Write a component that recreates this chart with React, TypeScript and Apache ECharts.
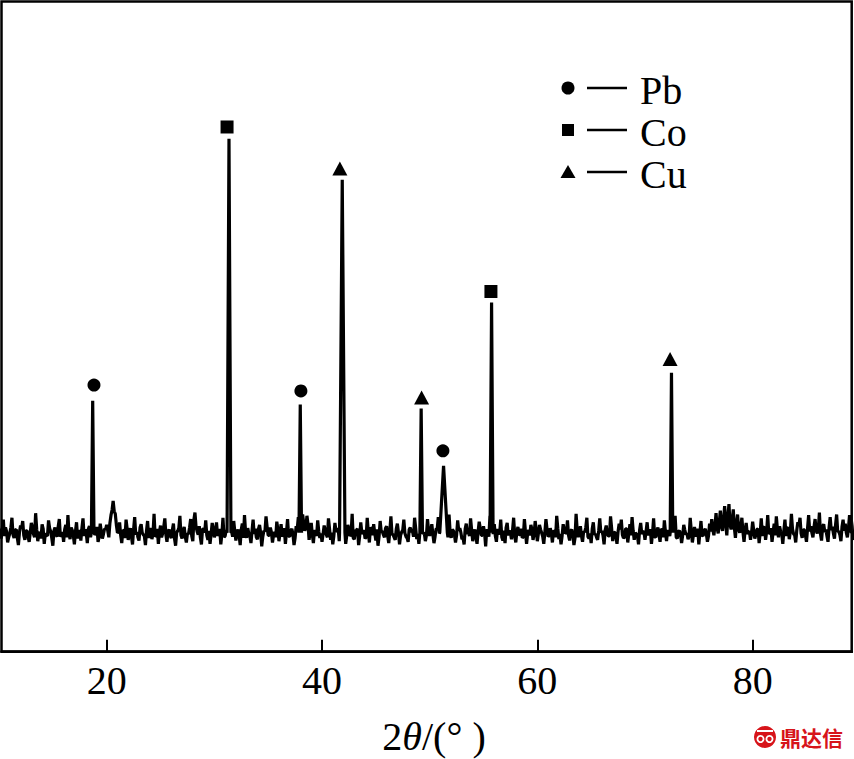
import React, { useEffect, useRef } from "react";
import * as echarts from "echarts";

// ---- data ----
const xTickValues = [20, 40, 60, 80];
const xMin = 10.23;
const xMax = 89.2;
const step = 0.2;
const baseLevel = 18.3;

// background noise: the "a" arrays start at 10.0, 20.0 ... and the "b" arrays at 10.1, 20.1 ...,
// one point every 0.2 deg in each array, each array covers 10 deg
const noise10a = [18.9, 17.4, 20.3, 19.1, 16.8, 18.2, 20.6, 17.5, 18.8, 16.4, 19.4, 20.1, 17.2, 18.6, 16.9, 19.8, 18.1, 21.3, 17.0, 18.4, 19.6, 16.6, 17.9, 20.2, 18.5, 16.3, 19.1, 17.7, 20.4, 18.0, 16.9, 19.5, 21.0, 17.3, 18.7, 16.5, 19.9, 18.3, 17.1, 20.5, 18.8, 16.7, 19.3, 17.6, 21.1, 18.2, 16.9, 19.7, 17.4, 18.9];
const noise20a = [19.5, 17.6, 21.0, 23.2, 21.2, 18.3, 19.9, 16.7, 18.6, 20.3, 17.2, 19.0, 16.5, 20.7, 18.4, 17.1, 19.6, 18.0, 16.4, 20.1, 18.7, 17.3, 21.2, 17.9, 16.6, 19.4, 18.2, 20.5, 16.9, 18.8, 17.5, 19.7, 16.3, 18.6, 20.9, 17.4, 19.2, 16.8, 18.1, 20.4, 17.0, 21.4, 18.5, 19.3, 16.5, 18.9, 20.2, 17.2, 16.6, 19.8];
const noise30a = [17.6, 19.9, 18.3, 16.5, 20.6, 17.8, 19.2, 16.9, 18.5, 20.1, 17.1, 18.8, 16.4, 19.7, 21.0, 17.5, 18.2, 16.7, 20.3, 18.9, 17.3, 19.5, 16.2, 18.6, 20.8, 17.9, 19.1, 16.8, 18.4, 20.0, 17.0, 19.6, 18.1, 16.6, 20.4, 17.7, 18.9, 16.4, 19.3, 20.7, 17.4, 21.1, 18.6, 20.9, 17.2, 19.8, 16.7, 18.3, 20.2, 17.5];
const noise40a = [16.9, 19.4, 18.0, 20.5, 17.2, 16.5, 19.8, 18.6, 17.0, 20.2, 18.3, 16.6, 19.5, 17.8, 21.2, 17.3, 18.7, 16.4, 19.9, 18.2, 17.4, 20.6, 16.8, 18.9, 19.6, 17.1, 16.3, 20.1, 18.5, 17.6, 19.3, 16.7, 20.8, 18.0, 17.2, 19.7, 16.5, 18.4, 20.3, 17.7, 16.9, 19.1, 18.6, 20.6, 17.3, 16.6, 19.9, 18.2, 17.0, 20.4];
const noise50a = [17.8, 19.6, 16.7, 18.9, 20.7, 17.2, 18.3, 16.4, 19.9, 21.1, 17.5, 18.6, 16.8, 20.2, 19.0, 17.3, 16.5, 19.7, 18.4, 20.5, 17.0, 18.8, 16.6, 20.0, 17.9, 19.3, 16.2, 18.5, 20.9, 17.4, 19.6, 16.9, 18.2, 20.3, 17.1, 16.7, 19.8, 18.6, 17.3, 20.6, 16.8, 19.2, 18.0, 17.5, 20.4, 16.6, 18.7, 19.5, 17.2, 20.1];
const noise60a = [17.0, 19.5, 18.3, 16.6, 20.4, 17.7, 19.0, 16.8, 18.5, 20.9, 17.3, 16.5, 19.6, 18.2, 20.2, 17.1, 18.8, 16.4, 21.2, 17.6, 19.3, 16.9, 18.4, 20.6, 17.4, 16.7, 19.9, 18.1, 17.2, 20.5, 18.6, 16.5, 19.4, 17.8, 20.8, 17.0, 18.3, 16.6, 19.7, 20.3, 17.5, 18.9, 16.8, 19.6, 20.7, 17.2, 18.1, 16.5, 19.8, 18.4];
const noise70a = [17.2, 19.9, 18.4, 16.6, 20.5, 17.6, 19.1, 16.9, 18.7, 20.2, 17.0, 18.3, 16.4, 19.8, 20.9, 17.4, 18.6, 16.7, 19.5, 18.0, 17.3, 20.6, 16.8, 19.2, 18.5, 16.5, 20.1, 17.8, 18.9, 16.9, 19.7, 20.4, 17.9, 21.3, 18.2, 21.7, 18.6, 22.4, 17.9, 22.7, 18.8, 21.9, 17.5, 21.1, 18.3, 20.6, 16.9, 19.8, 18.4, 17.2];
const noise80a = [20.0, 17.4, 18.8, 16.7, 20.5, 19.1, 17.2, 21.0, 18.3, 16.9, 19.7, 20.8, 17.6, 18.5, 16.6, 20.3, 19.0, 17.3, 21.2, 18.1, 16.8, 19.9, 20.6, 17.5, 18.7, 16.9, 21.0, 19.3, 17.6, 20.4, 18.2, 21.4, 17.1, 19.6, 18.8, 16.9, 20.7, 19.2, 17.4, 21.1, 18.5, 17.0, 20.3, 19.7, 17.6, 21.0, 18.4, 17.2, 20.6, 19.4];
const noise10b = [18.2, 18.9, 17.8, 18.5, 17.6, 19.1, 18.0, 18.7, 17.5, 18.4, 19.0, 17.9, 18.6, 17.7, 18.3, 19.2, 17.6, 18.8, 18.1, 17.4, 18.9, 18.2, 17.8, 19.0, 17.5, 18.6, 18.0, 19.3, 17.7, 18.4, 18.8, 17.6, 18.2, 19.1, 17.9, 18.5, 17.4, 18.7, 19.0, 17.8, 18.3, 18.9, 17.6, 18.6, 18.0, 19.2, 17.7, 18.4, 18.1, 18.8];
const noise20b = [18.6, 19.8, 21.8, 21.6, 19.5, 18.4, 17.9, 18.7, 17.5, 18.9, 18.2, 17.7, 18.8, 18.0, 17.6, 19.1, 18.3, 17.8, 18.6, 17.5, 19.0, 18.1, 17.7, 18.9, 18.4, 17.6, 19.2, 18.0, 18.5, 17.8, 18.7, 17.4, 18.3, 19.0, 17.9, 18.6, 17.7, 18.2, 19.1, 17.8, 20.3, 19.2, 18.0, 17.6, 18.8, 18.3, 17.9, 18.6, 18.1, 18.9];
const noise30b = [18.3, 17.8, 18.9, 18.1, 17.6, 18.7, 18.0, 19.1, 17.7, 18.5, 18.2, 17.9, 18.8, 17.5, 18.4, 19.0, 17.8, 18.6, 18.1, 17.6, 18.9, 18.3, 17.7, 18.5, 19.2, 17.9, 18.4, 18.0, 17.6, 18.8, 18.2, 17.7, 19.0, 18.4, 17.8, 18.6, 18.1, 17.5, 18.9, 18.3, 19.4, 19.8, 19.1, 19.6, 18.4, 18.0, 18.7, 17.8, 18.5, 18.2];
const noise40b = [18.1, 18.7, 17.6, 18.9, 18.3, 17.8, 18.5, 19.0, 17.7, 18.4, 18.2, 17.9, 18.8, 18.0, 17.5, 18.6, 18.9, 17.8, 18.3, 18.7, 17.6, 18.4, 19.1, 17.9, 18.2, 18.8, 17.7, 18.5, 18.0, 19.0, 17.8, 18.6, 18.1, 17.6, 18.9, 18.3, 17.9, 18.7, 18.2, 17.5, 18.8, 18.4, 17.7, 19.0, 18.1, 17.8, 18.6, 18.3, 17.9, 18.5];
const noise50b = [18.6, 18.0, 17.7, 18.9, 18.2, 17.8, 18.5, 19.1, 17.6, 18.4, 18.8, 18.0, 17.9, 18.6, 18.3, 17.5, 18.9, 18.1, 17.8, 18.7, 18.2, 17.6, 18.5, 19.0, 17.9, 18.3, 18.8, 17.7, 18.4, 18.1, 17.8, 18.9, 18.2, 17.6, 18.6, 19.1, 17.9, 18.3, 18.7, 17.8, 18.5, 18.0, 18.9, 17.7, 18.4, 18.2, 17.9, 18.8, 18.1, 18.6];
const noise60b = [18.2, 18.8, 17.7, 18.4, 18.9, 17.9, 18.3, 18.6, 17.6, 19.0, 18.1, 17.8, 18.7, 18.3, 17.9, 18.6, 18.0, 17.5, 18.8, 18.4, 17.8, 18.5, 19.1, 17.7, 18.2, 18.9, 18.0, 17.6, 18.6, 18.3, 17.9, 18.7, 18.1, 17.8, 19.0, 18.4, 17.7, 18.5, 18.8, 18.0, 17.6, 18.9, 18.2, 17.9, 18.6, 18.3, 17.8, 18.7, 18.1, 18.5];
const noise70b = [18.5, 17.9, 18.8, 18.2, 17.7, 18.6, 18.0, 18.9, 17.6, 18.4, 18.7, 17.8, 18.3, 18.9, 17.6, 18.5, 18.1, 17.9, 18.7, 18.2, 17.8, 18.6, 18.0, 17.7, 18.9, 18.3, 17.9, 18.6, 18.1, 17.8, 18.5, 18.8, 19.4, 19.0, 19.9, 19.3, 20.4, 19.6, 20.8, 19.5, 20.2, 19.1, 19.7, 18.8, 19.2, 18.4, 18.7, 18.1, 18.5, 18.3];
const noise80b = [18.6, 18.0, 18.9, 18.3, 17.8, 19.2, 18.5, 18.1, 19.0, 18.4, 17.9, 18.8, 19.3, 18.2, 18.6, 17.8, 19.1, 18.4, 18.9, 18.0, 18.7, 19.4, 18.2, 18.8, 17.9, 19.0, 18.5, 18.3, 19.2, 18.6, 18.9, 18.1, 19.3, 18.4, 17.8, 19.1, 18.7, 18.2, 19.5, 18.5, 18.0, 19.2, 18.6, 18.3, 19.0, 18.5, 18.1, 19.3, 18.7, 18.4];
const noiseStarts = [10, 20, 30, 40, 50, 60, 70, 80, 10.1, 20.1, 30.1, 40.1, 50.1, 60.1, 70.1, 80.1];
const noiseBlocks = [
  noise10a, noise20a, noise30a, noise40a, noise50a, noise60a, noise70a, noise80a,
  noise10b, noise20b, noise30b, noise40b, noise50b, noise60b, noise70b, noise80b,
];

// diffraction peaks
const peakPos = [18.7, 31.36, 37.98, 41.88, 49.21, 51.29, 55.75, 72.46];
const peakTop = [38.6, 78.9, 38.0, 72.6, 37.4, 28.6, 53.7, 42.9];
const peakHalfWidth = [0.12, 0.18, 0.12, 0.25, 0.12, 0.35, 0.14, 0.12];

// phase markers
const pbMarks = [[18.82, 41.0], [38.04, 40.1], [51.23, 30.9]];
const coMarks = [[31.18, 80.7], [55.69, 55.4]];
const cuMarks = [[41.66, 74.3], [49.25, 39.1], [72.33, 45.0]];

const legendLabels = ["Pb", "Co", "Cu"];

function buildPattern(): number[][] {
  const pts: number[][] = [];
  noiseBlocks.forEach((block, b) => {
    block.forEach((v, i) => {
      const x = +(noiseStarts[b] + i * step).toFixed(2);
      const nearPeak = peakPos.some((p, k) => Math.abs(x - p) <= peakHalfWidth[k]);
      if (!nearPeak) pts.push([x, v]);
    });
  });
  peakPos.forEach((p, k) => {
    pts.push([p - peakHalfWidth[k], baseLevel]);
    pts.push([p, peakTop[k]]);
    pts.push([p + peakHalfWidth[k], baseLevel]);
  });
  pts.sort((a, b) => a[0] - b[0]);
  return pts;
}

const SERIF = "'Liberation Serif', 'Times New Roman', serif";

export default function App() {
  const ref = useRef<HTMLDivElement>(null);
  useEffect(() => {
    if (!ref.current) return;
    const chart = echarts.init(ref.current, undefined, { renderer: "svg" });
    const legendSymbols: any[] = [];
    const rowY = [88, 130, 172];
    const symX = 568;
    legendSymbols.push({ type: "circle", shape: { cx: symX, cy: rowY[0], r: 6.5 }, style: { fill: "#000" } });
    legendSymbols.push({ type: "rect", shape: { x: symX - 6, y: rowY[1] - 6, width: 12, height: 12 }, style: { fill: "#000" } });
    legendSymbols.push({
      type: "polygon",
      shape: { points: [[symX, rowY[2] - 7], [symX + 7.5, rowY[2] + 6], [symX - 7.5, rowY[2] + 6]] },
      style: { fill: "#000" },
    });
    legendLabels.forEach((lab, i) => {
      legendSymbols.push({ type: "line", shape: { x1: 587, y1: rowY[i], x2: 627, y2: rowY[i] }, style: { stroke: "#000", lineWidth: 2.5 } });
      legendSymbols.push({
        type: "text",
        x: 640,
        y: rowY[i] + 2,
        style: { text: lab, fontSize: 40, fontFamily: SERIF, fill: "#000", align: "left", verticalAlign: "middle" },
      });
    });

    const markStyle = { color: "#000", opacity: 1 };

    chart.setOption({
      animation: false,
      backgroundColor: "#fff",
      grid: {
        left: 1.5,
        top: 1.5,
        right: 2.3,
        bottom: 107.3,
        show: true,
        borderColor: "#000",
        borderWidth: 2.5,
        containLabel: false,
        outerBoundsMode: "none",
      },
      xAxis: {
        type: "value",
        min: xMin,
        max: xMax,
        axisLine: { show: true, lineStyle: { color: "#000", width: 2.5 } },
        axisTick: { show: true, inside: true, length: 12, lineStyle: { color: "#000", width: 2 }, customValues: xTickValues },
        axisLabel: { customValues: xTickValues, fontSize: 40, fontFamily: SERIF, color: "#000", margin: 9 },
        splitLine: { show: false },
      },
      yAxis: {
        type: "value",
        min: 0,
        max: 100,
        show: false,
        splitLine: { show: false },
      },
      series: [
        {
          type: "line",
          name: "pattern",
          data: buildPattern(),
          symbol: "none",
          clip: true,
          lineStyle: { color: "#000", width: 3.2, join: "bevel" },
        },
        { type: "scatter", name: "Pb", data: pbMarks, symbol: "circle", symbolSize: 13, itemStyle: markStyle },
        { type: "scatter", name: "Co", data: coMarks, symbol: "rect", symbolSize: 13, itemStyle: markStyle },
        { type: "scatter", name: "Cu", data: cuMarks, symbol: "triangle", symbolSize: [15, 14], itemStyle: markStyle },
      ],
      graphic: [
        ...legendSymbols,
        {
          type: "text",
          x: 434,
          y: 736,
          style: {
            text: "2{i|θ}/(° )",
            fontSize: 40,
            fontFamily: SERIF,
            fill: "#000",
            align: "center",
            verticalAlign: "middle",
            rich: { i: { fontSize: 40, fontFamily: SERIF, fontStyle: "italic", fill: "#000" } },
          },
        },
        { type: "circle", shape: { cx: 765, cy: 737, r: 11 }, style: { fill: "#d7141a" } },
        { type: "ring", shape: { cx: 760.5, cy: 739, r: 4, r0: 2.2 }, style: { fill: "#fff" } },
        { type: "ring", shape: { cx: 769.5, cy: 739, r: 4, r0: 2.2 }, style: { fill: "#fff" } },
        { type: "rect", shape: { x: 757, y: 730, width: 16, height: 2 }, style: { fill: "#fff" } },
        {
          type: "text",
          x: 780,
          y: 737,
          style: {
            text: "鼎达信",
            fontSize: 21,
            fontWeight: "bold",
            fontFamily: "'Noto Sans CJK SC', sans-serif",
            fill: "#d7141a",
            align: "left",
            verticalAlign: "middle",
          },
        },
      ],
    });
    return () => chart.dispose();
  }, []);
  return (
    <div
      ref={ref}
      style={{ position: "absolute", left: 0, top: 0, width: 854, height: 759, background: "#fff" }}
    />
  );
}
